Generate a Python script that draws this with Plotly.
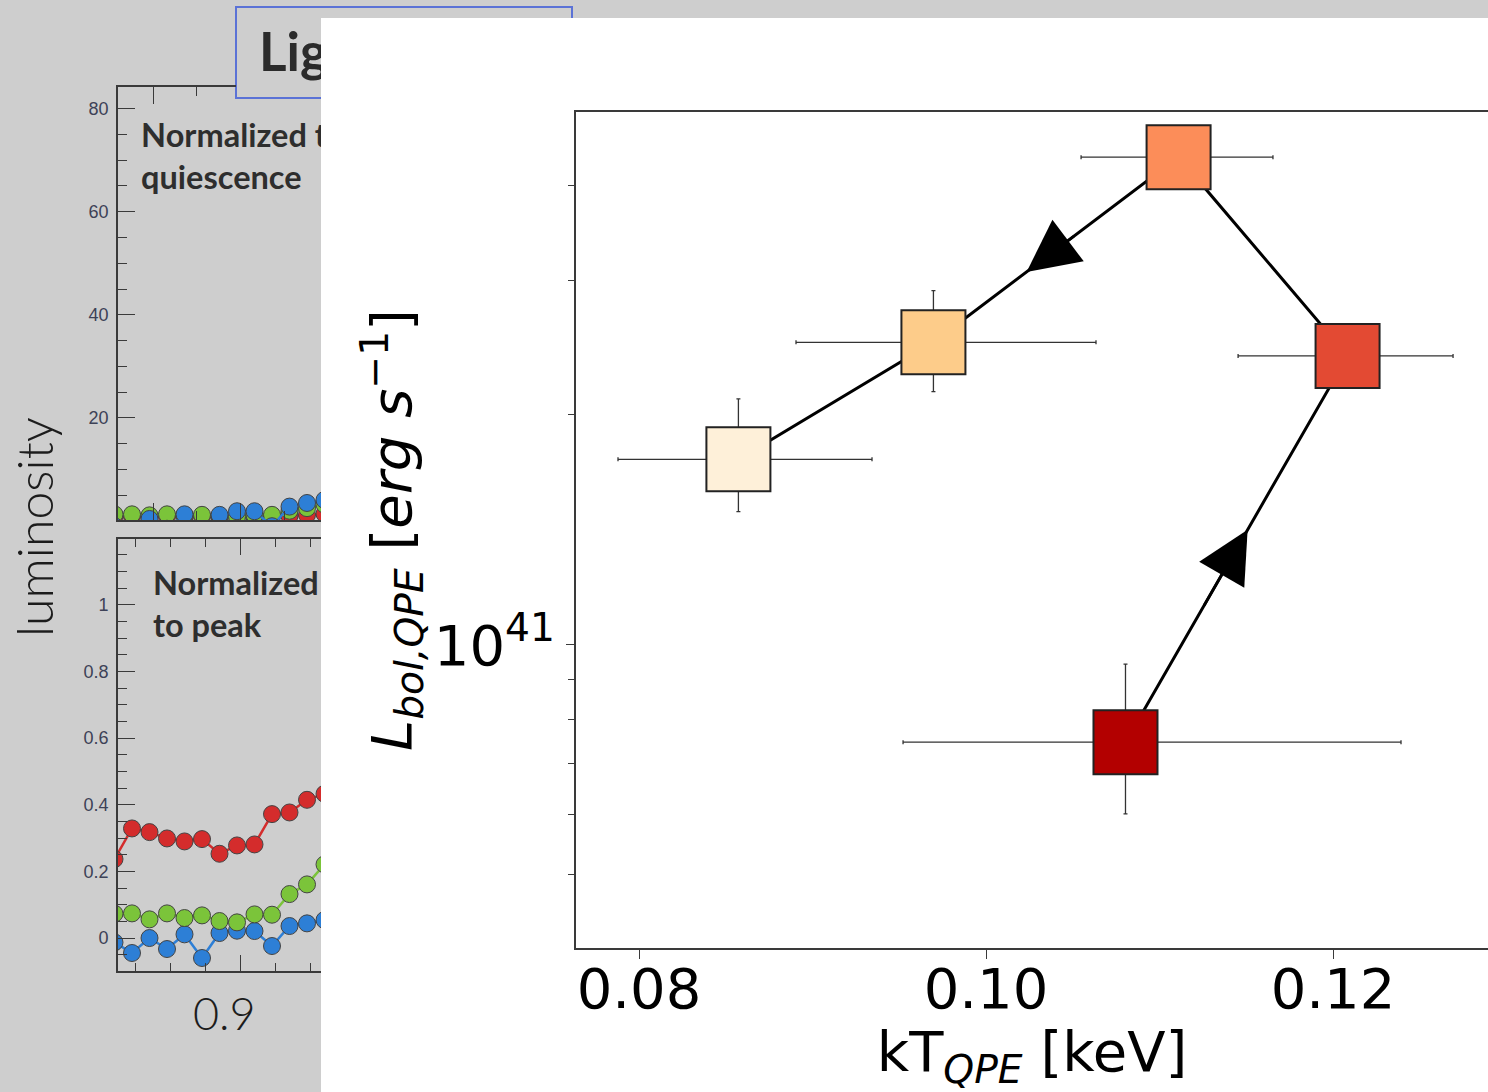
import numpy as np
import plotly.graph_objects as go

W, H = 1488, 1092

# ---------------- QPE track: kT vs bolometric luminosity ----------------
kT = [0.10804, 0.12084, 0.11110, 0.09697, 0.08573]
kT_err_lo = [0.01282, 0.00631, 0.00562, 0.00792, 0.00694]
kT_err_hi = [0.01588, 0.00608, 0.00544, 0.00937, 0.00770]
L_bol = [7.46e40, 2.39e41, 4.35e41, 2.49e41, 1.75e41]
L_err_lo = [1.45e40, 1.5e40, 2.5e40, 3.44e40, 2.55e40]
L_err_hi = [1.98e40, 1.5e40, 2.5e40, 4.19e40, 3.50e40]
track_colors = ["#b30000", "#e34a33", "#fc8d59", "#fdcc8a", "#fef0d9"]

# ---------------- background light curves ----------------
phase = [0.864, 0.869, 0.874, 0.879, 0.884, 0.889, 0.894,
         0.899, 0.904, 0.909, 0.914, 0.919, 0.924]
# normalised to quiescence
red_q = [0.9, 0.9, 0.8, 0.9, 0.8, 0.9, 0.8, 0.8, 0.8, 0.9, 1.0, 1.2, 1.4]
green_q = [1.3, 1.3, 1.1, 1.3, 1.1, 1.2, 1.0, 0.9, 1.2, 1.2, 2.0, 2.5, 3.2]
blue_q = [-1.0, -2.0, 0.4, -1.5, 1.3, -2.5, 1.2, 1.9, 1.9, -1.0, 2.8, 3.5, 4.1]
# normalised to peak
red_p = [0.237, 0.329, 0.318, 0.299, 0.290, 0.297, 0.253,
         0.278, 0.281, 0.372, 0.377, 0.415, 0.433]
green_p = [0.073, 0.074, 0.056, 0.074, 0.060, 0.068, 0.051,
           0.047, 0.071, 0.070, 0.132, 0.161, 0.221]
blue_p = [-0.013, -0.045, 0.000, -0.033, 0.011, -0.060, 0.015,
          0.022, 0.021, -0.024, 0.036, 0.044, 0.054]

y_ticks_q = [20, 40, 60, 80]
y_ticks_p = [0, 0.2, 0.4, 0.6, 0.8, 1]
y_ticktext_p = ["0", "0.2", "0.4", "0.6", "0.8", "1"]

RED, GREEN, BLUE = "#d42c2c", "#7bc43a", "#2d7fd6"
GREY_BG = "#cecece"
AX = "#3a3a3a"


def px_x(p):
    return p / W


def px_y(p):
    return 1 - p / H


fig = go.Figure()

# ---- light-curve panels ----
def curve(x, y, color, xa, ya, err=None):
    fig.add_trace(go.Scatter(
        x=x, y=y, mode="lines+markers", xaxis=xa, yaxis=ya,
        line=dict(color=color, width=2.5),
        marker=dict(size=17, color=color, line=dict(color="#444444", width=1)),
        error_y=None if err is None else dict(type="constant", value=err, color="#1e1e1e",
                                              thickness=2, width=1.5),
        showlegend=False, hoverinfo="skip"))


curve(phase, red_q, RED, "x2", "y2")
curve(phase, green_q, GREEN, "x2", "y2")
curve(phase, blue_q, BLUE, "x2", "y2", err=0.6)

curve(phase, red_p, RED, "x3", "y3")
curve(phase, blue_p, BLUE, "x3", "y3", err=0.012)
curve(phase, green_p, GREEN, "x3", "y3")

label_font = dict(family="Lato", size=32.5, color="#2e2e2e", weight=700)
fig.add_trace(go.Scatter(
    x=[0.8716], y=[77.3], mode="text", text=["Normalized to<br>quiescence"],
    textposition="bottom right", textfont=label_font, xaxis="x2", yaxis="y2",
    showlegend=False, hoverinfo="skip"))
fig.add_trace(go.Scatter(
    x=[0.8750], y=[1.103], mode="text", text=["Normalized<br>to peak"],
    textposition="bottom right", textfont=label_font, xaxis="x3", yaxis="y3",
    showlegend=False, hoverinfo="skip"))

# slide heading, clipped by the overlaid figure
fig.add_trace(go.Scatter(
    x=[0.807], y=[0.44], mode="text", text=["Lig"], textposition="middle right",
    textfont=dict(family="Lato", size=53, color="#2b2b2b", weight=700),
    xaxis="x5", yaxis="y5", showlegend=False, hoverinfo="skip"))

# placeholder so the short top spine axis is rendered
fig.add_trace(go.Scatter(x=[None], y=[None], xaxis="x4", yaxis="y2",
                         showlegend=False, hoverinfo="skip"))

# ---- QPE track ----
fig.add_trace(go.Scatter(
    x=kT, y=L_bol, mode="lines", line=dict(color="black", width=3),
    showlegend=False, hoverinfo="skip"))
fig.add_trace(go.Scatter(
    x=kT, y=L_bol, mode="markers",
    marker=dict(symbol="square", size=64, color=track_colors,
                line=dict(color="#222222", width=2)),
    error_x=dict(type="data", symmetric=False, array=kT_err_hi, arrayminus=kT_err_lo,
                 color="#333333", thickness=1.3, width=2),
    error_y=dict(type="data", symmetric=False, array=L_err_hi, arrayminus=L_err_lo,
                 color="#333333", thickness=1.3, width=2),
    showlegend=False, hoverinfo="skip"))

# direction arrows placed along two segments of the track
annotations = []
for i0, i1, f_tip, f_tail in [(0, 1, 0.55, 0.35), (2, 3, 0.62, 0.42)]:
    lx0, lx1 = np.log10(L_bol[i0]), np.log10(L_bol[i1])
    tip = (kT[i0] + f_tip * (kT[i1] - kT[i0]), lx0 + f_tip * (lx1 - lx0))
    tail = (kT[i0] + f_tail * (kT[i1] - kT[i0]), lx0 + f_tail * (lx1 - lx0))
    annotations.append(dict(
        x=tip[0], y=tip[1], ax=tail[0], ay=tail[1], xref="x", yref="y",
        axref="x", ayref="y", text="", showarrow=True, arrowhead=2,
        arrowsize=4, arrowwidth=2.6, arrowcolor="black"))

annotations.append(dict(
    x=px_x(34), y=px_y(527), xref="paper", yref="paper", text="luminosity",
    textangle=-90, showarrow=False, xanchor="center", yanchor="middle",
    font=dict(family="Lato", size=50, color="#1c1c1c", weight=300)))
annotations.append(dict(
    x=px_x(224), y=px_y(1013), xref="paper", yref="paper", text="0.9",
    showarrow=False, xanchor="center", yanchor="middle",
    font=dict(family="Lato", size=45, color="#1c1c1c", weight=300)))

main_font = dict(family="DejaVu Sans", size=56, color="black")
small_font = dict(family="Liberation Sans", size=18, color="#3d4257")

x_rng = [0.865, 0.923]
left_dom = [px_x(118), px_x(321)]

fig.update_layout(
    width=W, height=H, margin=dict(l=0, r=0, t=0, b=0),
    paper_bgcolor=GREY_BG, plot_bgcolor="rgba(0,0,0,0)", showlegend=False,
    annotations=annotations,
    shapes=[
        dict(type="rect", xref="paper", yref="paper", x0=px_x(321), x1=1,
             y0=0, y1=px_y(18), fillcolor="white", line=dict(width=0), layer="below"),
        dict(type="path", xref="paper", yref="paper",
             path=(f"M {px_x(321)},{px_y(98)} L {px_x(236)},{px_y(98)} "
                   f"L {px_x(236)},{px_y(7)} L {px_x(572)},{px_y(7)} L {px_x(572)},{px_y(18)}"),
             line=dict(color="#5b72d6", width=2), layer="below"),
    ],
    # main panel
    xaxis=dict(domain=[px_x(576), 1], range=[0.076369, 0.128934], anchor="y",
               tickvals=[0.08, 0.10, 0.12], ticktext=["0.08", "0.10", "0.12"],
               ticks="outside", ticklen=9, tickwidth=1.3, tickcolor=AX,
               ticklabelstandoff=-18,
               showline=True, linecolor=AX, linewidth=1.8, mirror=True,
               showgrid=False, zeroline=False, tickfont=main_font,
               title=dict(text="kT<sub><i>QPE</i></sub> [keV]", font=main_font, standoff=26)),
    yaxis=dict(domain=[px_y(948), px_y(112)], type="log", range=[40.6034, 41.6976],
               anchor="x", tickvals=[1e41], ticktext=["10<sup>41</sup>"],
               ticks="outside", ticklen=8, tickwidth=1.3, tickcolor=AX,
               minor=dict(tickvals=[5e40, 6e40, 7e40, 8e40, 9e40, 2e41, 3e41, 4e41],
                          ticks="outside", ticklen=6, tickwidth=1.2, tickcolor=AX),
               showline=True, linecolor=AX, linewidth=1.8, showgrid=False,
               zeroline=False, tickfont=main_font,
               title=dict(text="<i>L</i><sub><i>bol,QPE</i></sub> [<i>erg s</i><sup>\u22121</sup>]",
                          font=main_font, standoff=4)),
    # top light-curve panel
    xaxis2=dict(domain=left_dom, range=x_rng, anchor="y2", showticklabels=False,
                tickvals=[0.875, 0.9], ticks="inside", ticklen=17, tickwidth=1.3,
                tickcolor=AX, minor=dict(tickvals=[0.8875, 0.9125], ticks="inside",
                                         ticklen=9, tickwidth=1.3, tickcolor=AX),
                showline=True, linecolor=AX, linewidth=1.6, showgrid=False, zeroline=False),
    yaxis2=dict(domain=[px_y(520), px_y(87)], range=[0.2, 84.2], anchor="x2",
                tickvals=y_ticks_q, ticks="inside", ticklen=17, tickwidth=1.3, tickcolor=AX,
                minor=dict(dtick=5, tick0=0, ticks="inside", ticklen=9, tickwidth=1.3,
                           tickcolor=AX),
                ticklabelstandoff=4,
                showline=True, linecolor=AX, linewidth=1.6, showgrid=False,
                zeroline=False, tickfont=small_font),
    xaxis4=dict(domain=[px_x(118), px_x(236)], range=[x_rng[0], x_rng[0] + 118 / 3500],
                anchor="y2", side="top", showticklabels=False, tickvals=[0.875],
                ticks="inside", ticklen=17, tickwidth=1.3, tickcolor=AX,
                minor=dict(tickvals=[0.8875], ticks="inside", ticklen=9, tickwidth=1.3,
                           tickcolor=AX),
                showline=True, linecolor=AX, linewidth=1.6, showgrid=False, zeroline=False),
    # bottom light-curve panel
    xaxis3=dict(domain=left_dom, range=x_rng, anchor="y3", showticklabels=False,
                tickvals=[0.9], ticks="inside", ticklen=16, tickwidth=1.3, tickcolor=AX,
                minor=dict(dtick=0.01, tick0=0.9, ticks="inside", ticklen=8,
                           tickwidth=1.3, tickcolor=AX),
                showline=True, linecolor=AX, linewidth=1.6, mirror="ticks",
                showgrid=False, zeroline=False),
    yaxis3=dict(domain=[px_y(971), px_y(539)], range=[-0.099, 1.198], anchor="x3",
                tickvals=y_ticks_p, ticktext=y_ticktext_p, ticks="inside", ticklen=17,
                tickwidth=1.3, tickcolor=AX,
                minor=dict(dtick=0.05, tick0=0, ticks="inside", ticklen=9, tickwidth=1.3,
                           tickcolor=AX),
                ticklabelstandoff=4,
                showline=True, linecolor=AX, linewidth=1.6, showgrid=False,
                zeroline=False, tickfont=small_font),
    # heading strip
    xaxis5=dict(domain=[0, px_x(321)], range=[0, 1], anchor="y5", visible=False),
    yaxis5=dict(domain=[px_y(98), px_y(7)], range=[0, 1], anchor="x5", visible=False),
)

fig.write_html("out.html")
